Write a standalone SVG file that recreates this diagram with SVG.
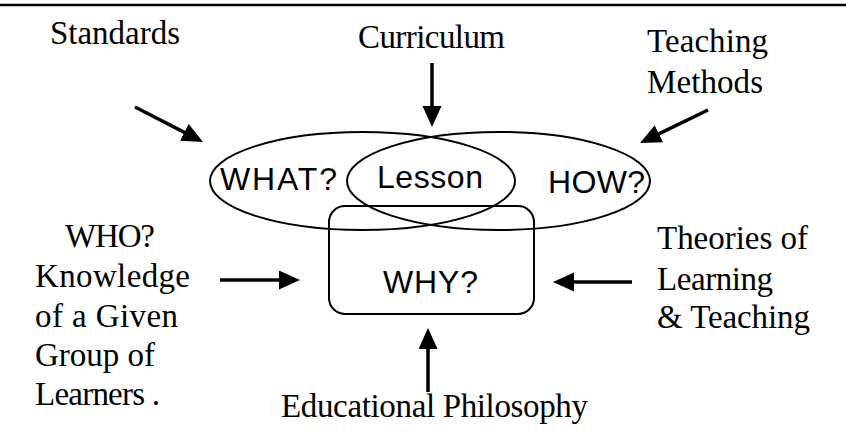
<svg xmlns="http://www.w3.org/2000/svg" width="846" height="445" viewBox="0 0 846 445">
<style>
.serif{font-family:"Liberation Serif","Times New Roman",serif;font-size:33px;fill:#000}
.sans{font-family:"Liberation Sans",Arial,sans-serif;font-size:32px;fill:#000}
.shape{fill:none;stroke:#000;stroke-width:2}
.arr{stroke:#000;stroke-width:3.5;fill:none;marker-end:url(#ah)}
</style>
<defs>
<marker id="ah" markerUnits="userSpaceOnUse" markerWidth="22" markerHeight="20" refX="11" refY="9.5" orient="auto">
<path d="M0,0 L21,9.5 L0,19 z" fill="#000"/>
</marker>
</defs>
<rect width="846" height="445" fill="#fff"/>
<line x1="0" y1="5" x2="846" y2="5" stroke="#000" stroke-width="2.5"/>
<g id="what">
<ellipse class="shape" cx="362.5" cy="181" rx="152.5" ry="49"/>
<text class="sans" x="220" y="190" textLength="117">WHAT?</text>
</g>
<g id="how">
<ellipse class="shape" cx="498.5" cy="181" rx="151.5" ry="49"/>
<text class="sans" x="548" y="193" textLength="97">HOW?</text>
</g>
<g id="lesson">
<text class="sans" x="377" y="188" textLength="106">Lesson</text>
</g>
<g id="why">
<rect class="shape" x="329" y="206" width="205" height="108" rx="16"/>
<text class="sans" x="383" y="293" textLength="95">WHY?</text>
</g>
<g id="standards">
<text class="serif" x="50" y="44" textLength="130">Standards</text>
</g>
<g id="curriculum">
<text class="serif" x="358" y="48" textLength="147">Curriculum</text>
</g>
<g id="methods">
<text class="serif" x="647" y="52" textLength="121">Teaching</text>
<text class="serif" x="647" y="93" textLength="116">Methods</text>
</g>
<g id="who">
<text class="serif" x="65" y="247" textLength="90">WHO?</text>
<text class="serif" x="35" y="287" textLength="155">Knowledge</text>
<text class="serif" x="35" y="327" textLength="143">of a Given</text>
<text class="serif" x="35" y="366" textLength="120">Group of</text>
<text class="serif" x="35" y="405" textLength="125">Learners .</text>
</g>
<g id="theories">
<text class="serif" x="657" y="249" textLength="151">Theories of</text>
<text class="serif" x="657" y="290" textLength="116">Learning</text>
<text class="serif" x="657" y="328" textLength="153">&amp; Teaching</text>
</g>
<g id="philosophy">
<text class="serif" x="281" y="417" textLength="307">Educational Philosophy</text>
</g>
<g id="connectors">
<line class="arr" x1="432" y1="63" x2="432" y2="117"/>
<line class="arr" x1="135" y1="107" x2="194.1" y2="137.4"/>
<line class="arr" x1="708" y1="110" x2="649" y2="138.6"/>
<line class="arr" x1="220" y1="280" x2="290" y2="280"/>
<line class="arr" x1="632" y1="282" x2="563" y2="282"/>
<line class="arr" x1="428" y1="392" x2="428" y2="338"/>
</g>
</svg>
